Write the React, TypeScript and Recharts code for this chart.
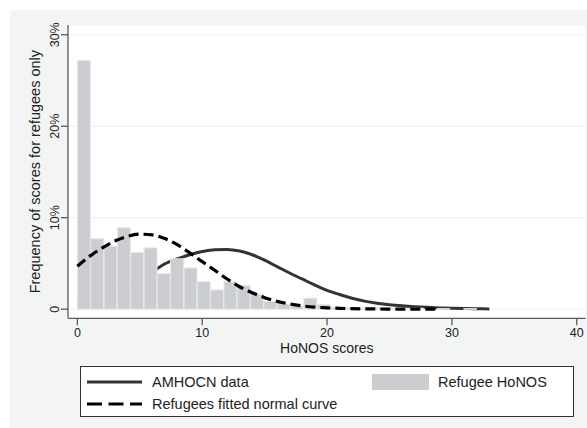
import React from 'react'
import {
  ComposedChart,
  Bar,
  Line,
  XAxis,
  YAxis,
  CartesianGrid,
} from 'recharts'

// histogram bins (bin centres, width 32/30) and % of refugees per bin
const binMid = [
  0.53, 1.6, 2.67, 3.73, 4.8, 5.87, 6.93, 8.0, 9.07, 10.13,
  11.2, 12.27, 13.33, 14.4, 15.47, 16.53, 17.6, 18.67, 19.73, 20.8,
  21.87, 22.93, 24.0, 25.07, 26.13, 27.2, 28.27, 29.33, 30.4, 31.47,
]
const refugeePct = [
  27.2, 7.7, 6.9, 8.9, 6.2, 6.7, 3.9, 5.5, 4.5, 3.0,
  2.1, 3.0, 2.6, 1.65, 0.85, 0.55, 0.3, 1.2, 0.5, 0.2,
  0.15, 0.1, 0.15, 0.1, 0.05, 0.1, 0, 0.05, 0, 0.05,
]

// curve sample points
const curveX = [
  0, 1, 2, 3, 4, 5, 6, 7, 8, 9, 10, 11, 12, 13, 14, 15, 16,
  17, 18, 19, 20, 21, 22, 23, 24, 25, 26, 27, 28, 29, 30, 31, 32, 33,
]
const amhocnPct = [
  1.2, 1.5, 1.85, 2.3, 2.85, 3.45, 4.1, 4.95, 5.5, 5.95, 6.3, 6.5, 6.52, 6.35, 5.95, 5.35, 4.65,
  3.95, 3.3, 2.65, 2.05, 1.6, 1.2, 0.88, 0.65, 0.48, 0.36, 0.27, 0.2, 0.14, 0.1, 0.07, 0.05, 0.03,
]
const fittedPct = [
  4.7, 5.8, 6.7, 7.45, 7.95, 8.2, 8.12, 7.72, 7.05, 6.15, 5.2, 4.25, 3.3, 2.45, 1.8, 1.25, 0.85,
  0.56, 0.36, 0.23, 0.14, 0.09, 0.05, 0.03, 0.02, 0.01, 0.01, 0, 0, 0,
]

const xTicks = [0, 10, 20, 30, 40]
const yTicks = [0, 10, 20, 30]
const xDomain = [-0.75, 40.7]

const FONT = '"Liberation Sans", Arial, Helvetica, sans-serif'
const AXIS = '#5a5a5a'
const BAR = '#cbcdd1'

const barData = binMid.map((s, i) => ({ score: s, pct: refugeePct[i] }))
const amhocnData = curveX.map((s, i) => ({ score: s, pct: amhocnPct[i] }))
const fittedData = fittedPct.map((v, i) => ({ score: curveX[i], pct: v }))

const fmtPct = (v: number) => (v === 0 ? '0' : `${v}%`)

const YTick = (props: any) => {
  const { x, y, payload } = props
  return (
    <text
      x={x}
      y={y}
      transform={`rotate(-90 ${x} ${y})`}
      textAnchor="middle"
      fontSize={12.5}
      fill="#222"
      fontFamily={FONT}
    >
      {fmtPct(payload.value)}
    </text>
  )
}

function LegendBox() {
  return (
    <div
      style={{
        position: 'absolute',
        left: 80,
        top: 366,
        width: 492,
        height: 49,
        background: '#fff',
        border: '1px solid #333',
        fontFamily: FONT,
        fontSize: 14.5,
        color: '#222',
      }}
    >
      <svg width={492} height={49} style={{ position: 'absolute', left: 0, top: 0 }}>
        <line x1={6} x2={61} y1={15} y2={15} stroke="#333" strokeWidth={3} />
        <line x1={6} x2={61} y1={37} y2={37} stroke="#000" strokeWidth={3} strokeDasharray="15 6.5" />
        <rect x={291} y={7} width={57} height={16} fill={BAR} />
        <text x={71} y={20} fontSize={14.5} fill="#222" fontFamily={FONT}>AMHOCN data</text>
        <text x={71} y={42} fontSize={14.5} fill="#222" fontFamily={FONT}>Refugees fitted normal curve</text>
        <text x={357} y={20} fontSize={14.5} fill="#222" fontFamily={FONT}>Refugee HoNOS</text>
      </svg>
    </div>
  )
}

export default function App() {
  return (
    <div
      style={{
        position: 'absolute',
        left: 0,
        top: 0,
        width: 587,
        height: 428,
        background: '#fff',
        overflow: 'hidden',
      }}
    >
      <div style={{ position: 'absolute', left: 10, top: 10, width: 577, height: 418, background: '#f3f5f4' }} />
      <div style={{ position: 'absolute', left: 0, top: 0 }}>
        <ComposedChart
          width={587}
          height={428}
          data={barData}
          barCategoryGap={0}
          margin={{ top: 25, right: 1.5, left: 10, bottom: 85.7 }}
        >
          <CartesianGrid vertical={false} stroke="#eef0f0" fill="#fff" />
          <XAxis
            dataKey="score"
            type="number"
            domain={xDomain}
            ticks={xTicks}
            allowDataOverflow
            height={24}
            tickSize={7}
            tickMargin={3}
            stroke={AXIS}
            strokeWidth={1.3}
            tick={{ fontSize: 12.5, fill: '#222', fontFamily: FONT }}
            label={{
              value: 'HoNOS scores',
              position: 'bottom',
              offset: 1,
              fontSize: 14,
              fill: '#222',
              fontFamily: FONT,
            }}
          />
          <XAxis
            xAxisId="curve"
            dataKey="score"
            type="number"
            domain={xDomain}
            allowDataOverflow
            hide
          />
          <YAxis
            type="number"
            domain={[-1, 31.07]}
            ticks={yTicks}
            allowDataOverflow
            width={58}
            tickSize={7}
            tickMargin={2}
            stroke={AXIS}
            strokeWidth={1.3}
            tick={<YTick />}
            label={{
              value: 'Frequency of scores for refugees only',
              angle: -90,
              position: 'insideLeft',
              offset: 25,
              fontSize: 14.5,
              fill: '#222',
              fontFamily: FONT,
              style: { textAnchor: 'middle' },
            }}
          />
          <Line
            xAxisId="curve"
            data={amhocnData}
            dataKey="pct"
            type="monotone"
            stroke="#333"
            strokeWidth={3}
            dot={false}
            zIndex={250}
            isAnimationActive={false}
          />
          <Bar
            dataKey="pct"
            fill={BAR}
            stroke="#e6e8ea"
            strokeWidth={1}
            isAnimationActive={false}
          />
          <Line
            xAxisId="curve"
            data={fittedData}
            dataKey="pct"
            type="monotone"
            stroke="#000"
            strokeWidth={3.2}
            strokeDasharray="10 5"
            dot={false}
            isAnimationActive={false}
          />
        </ComposedChart>
      </div>
      <LegendBox />
    </div>
  )
}
